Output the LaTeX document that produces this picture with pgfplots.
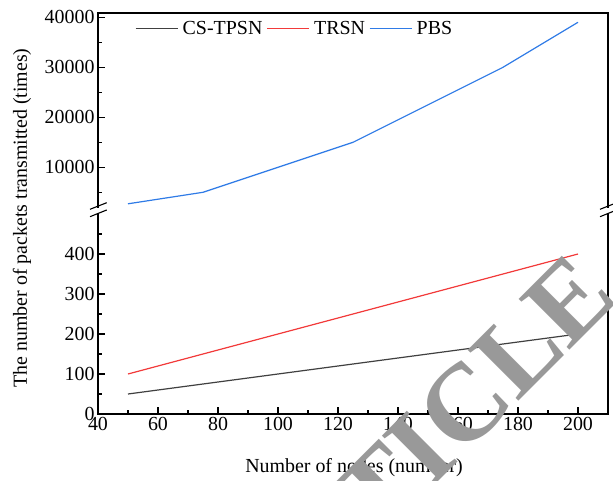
\documentclass[border=0pt]{standalone}
\usepackage{fontspec}
\setmainfont{Liberation Serif}
\usepackage{pgfplots}
\usepackage{pgfplotstable}
\pgfplotsset{compat=1.18}
\definecolor{cgray}{HTML}{404040}
\definecolor{cred}{HTML}{F23A3A}
\definecolor{cblue}{HTML}{2F7BE6}
\definecolor{wm}{HTML}{999999}

\pgfplotstableread{
n cs trsn pbs
50 50 100 2700
75 75 150 5000
100 100 200 10000
125 125 250 15000
150 150 300 22500
175 175 350 30000
200 200 400 39000
}\datatable

\pgfplotsset{
 common/.style={
  scale only axis, width=510bp, xmin=40, xmax=210,
  axis line style={draw=none},
  tick align=inside,
  major tick length=7bp, minor tick length=4bp,
  every tick/.append style={black, line width=1.1bp},
  tick label style={font=\fontsize{20}{24}\selectfont},
  /pgf/number format/assume math mode=true,
  /pgf/number format/1000 sep={},
  scaled y ticks=false,
  ytick pos=left, xtick pos=left,
  clip=false,
 }
}

\begin{document}
\begin{tikzpicture}[x=1bp,y=1bp]
\path[use as bounding box] (-98bp,-67bp) rectangle (515bp,414bp);

\begin{axis}[common, at={(0bp,0bp)}, anchor=south west, height=200bp,
  ymin=0, ymax=500,
  xtick={40,60,...,200}, minor xtick={50,70,...,190},
  ytick={0,100,200,300,400}, minor ytick={50,150,250,350,450}]
\addplot[cgray, line width=1.2bp] table[x=n, y=cs] {\datatable};
\addplot[cred, line width=1.2bp] table[x=n, y=trsn] {\datatable};
\end{axis}

\begin{axis}[common, at={(0bp,207bp)}, anchor=south west, height=194bp,
  ymin=2060, ymax=40860,
  xtick=\empty,
  ytick={10000,20000,30000,40000}, minor ytick={5000,15000,25000,35000},
  legend columns=-1,
  legend image code/.code={\draw[mark repeat=2,mark phase=2,#1] plot coordinates {(0bp,0bp) (21bp,0bp) (42bp,0bp)};},
  legend style={draw=none, fill=none, at={(axis description cs:0.0725,0.92)}, anchor=west,
    inner sep=0pt, outer sep=0pt,
    font=\fontsize{20}{24}\selectfont,
    nodes={inner sep=2.5bp},
    /tikz/every odd column/.append style={column sep=2bp},
    /tikz/every even column/.append style={column sep=1.5bp}}]
\addlegendimage{color=cgray, line width=1.2bp}
\addlegendentry{CS-TPSN}
\addlegendimage{color=cred, line width=1.2bp}
\addlegendentry{TRSN}
\addplot[color=cblue, line width=1.2bp] table[x=n, y=pbs] {\datatable};
\addlegendentry{PBS}
\end{axis}

% frame with break
\begin{scope}[line width=1.4bp, black, line cap=rect]
\draw (0bp,0bp) -- (510bp,0bp);
\draw (0bp,0bp) -- (0bp,200bp);
\draw (0bp,207bp) -- (0bp,401bp) -- (510bp,401bp) -- (510bp,207bp);
\draw (510bp,0bp) -- (510bp,200bp);
\end{scope}
\begin{scope}[line width=1.1bp, black]
\foreach \xx in {0,510}{
  \draw (\xx bp-8bp,204.7bp) -- (\xx bp+8.7bp,211.3bp);
  \draw (\xx bp-8bp,197.3bp) -- (\xx bp+8.7bp,204bp);
}
\end{scope}

\node[rotate=90, font=\fontsize{20}{24}\selectfont] at (-76bp,196bp) {The number of packets transmitted (times)};
\node[font=\fontsize{20}{24}\selectfont] at (256bp,-54bp) {Number of nodes (number)};

\node[rotate=45, anchor=base east, text=wm, font=\fontsize{110}{110}\selectfont\bfseries, inner sep=0pt, outer sep=0pt] at (419bp,11bp) {ARTIC};
\node[rotate=45, anchor=base west, text=wm, font=\fontsize{110}{110}\selectfont\bfseries, inner sep=0pt, outer sep=0pt] at (419bp,11bp) {LE};
\end{tikzpicture}
\end{document}
